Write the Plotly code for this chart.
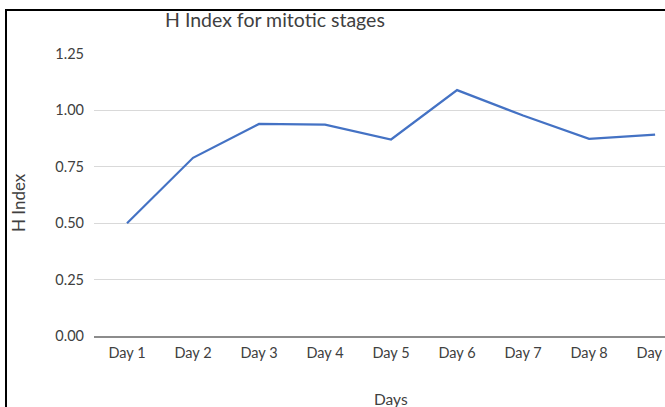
import plotly.graph_objects as go

days = ["Day 1", "Day 2", "Day 3", "Day 4", "Day 5", "Day 6", "Day 7", "Day 8", "Day 9"]
h_index = [0.50, 0.79, 0.94, 0.937, 0.871, 1.09, 0.977, 0.874, 0.893]
y_ticks = [0.0, 0.25, 0.5, 0.75, 1.0, 1.25]
y_tick_labels = ["0.00", "0.25", "0.50", "0.75", "1.00", "1.25"]

W, H = 665, 407
L, R, T, B = 94, 0, 54, 71
pw, ph = W - L - R, H - T - B

def px_x(px):
    return (px - L) / pw

def px_y(py):
    return (H - B - py) / ph

font = "Lato, 'Open Sans', sans-serif"
txt = "#404040"

fig = go.Figure()
fig.add_trace(go.Scatter(
    x=list(range(len(days))), y=h_index, mode="lines",
    line=dict(color="#4472C4", width=2.2),
    hoverinfo="skip", showlegend=False,
))

fig.update_layout(
    width=W, height=H,
    margin=dict(l=L, r=R, t=T, b=B, pad=0, autoexpand=False),
    paper_bgcolor="white", plot_bgcolor="white",
    font=dict(family=font, size=14, color=txt),
    xaxis=dict(
        range=[-0.5, 8.15], tickmode="array",
        tickvals=list(range(len(days))), ticktext=days,
        showgrid=False, zeroline=False, automargin=False,
        showline=True, linecolor="#8c8c8c", linewidth=1.5,
        ticks="", ticklabelstandoff=3, ticklabeloverflow="allow",
        tickfont=dict(size=14.5, color=txt),
        fixedrange=True,
    ),
    yaxis=dict(
        range=[0, 1.25], tickmode="array",
        tickvals=y_ticks, ticktext=y_tick_labels,
        showgrid=True, gridcolor="#d9d9d9", gridwidth=1,
        zeroline=False, showline=False, ticks="", automargin=False,
        ticklabelstandoff=9,
        tickfont=dict(size=14.5, color=txt),
        fixedrange=True,
    ),
    annotations=[
        dict(text="H Index for mitotic stages", x=px_x(275), y=px_y(20),
             xref="paper", yref="paper", showarrow=False,
             font=dict(size=19.5, color=txt, family=font), xanchor="center", yanchor="middle"),
        dict(text="Days", x=px_x(391), y=px_y(399),
             xref="paper", yref="paper", showarrow=False,
             font=dict(size=15.5, color=txt, family=font), xanchor="center", yanchor="middle"),
        dict(text="H Index", x=px_x(18), y=px_y(203), textangle=-90,
             xref="paper", yref="paper", showarrow=False,
             font=dict(size=17, color=txt, family=font), xanchor="center", yanchor="middle"),
    ],
    shapes=[
        dict(type="line", xref="paper", yref="paper",
             x0=px_x(6), x1=px_x(6), y0=px_y(9), y1=px_y(420),
             line=dict(color="black", width=2)),
        dict(type="line", xref="paper", yref="paper",
             x0=px_x(5), x1=px_x(680), y0=px_y(10), y1=px_y(10),
             line=dict(color="black", width=2)),
    ],
)

fig.write_html("out.html", config={"displayModeBar": False},
               post_script="document.body.style.margin='0';document.body.style.overflow='hidden';")
